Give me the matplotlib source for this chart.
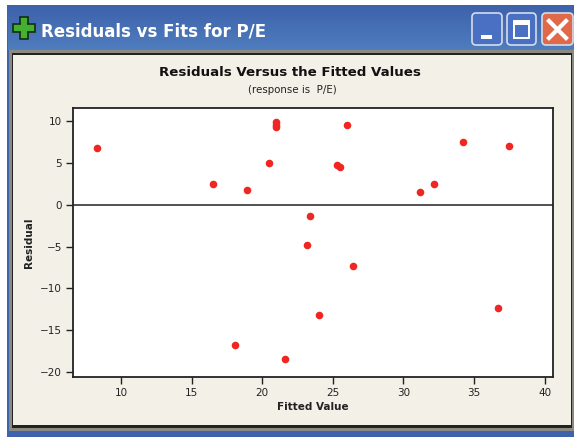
import numpy as np
import matplotlib
matplotlib.use("Agg")
import matplotlib.pyplot as plt
from matplotlib.patches import Rectangle, FancyBboxPatch

# values
fitted = [8.3, 16.5, 18.9, 20.5, 21.0, 21.0, 21.0, 25.3, 25.5, 26.0, 31.2,
          32.2, 34.2, 37.5, 23.4, 23.2, 26.4, 24.0, 18.1, 21.6, 36.7]
residual = [6.8, 2.5, 1.8, 5.0, 9.9, 9.6, 9.3, 4.8, 4.5, 9.6, 1.6,
            2.5, 7.5, 7.0, -1.3, -4.8, -7.3, -13.2, -16.8, -18.4, -12.4]
xticks = [10, 15, 20, 25, 30, 35, 40]
yticks = [10, 5, 0, -5, -10, -15, -20]

W, H = 574, 437
fig = plt.figure(figsize=(W/100, H/100), dpi=100, facecolor="white")

# window frame, drawn in pixel coords
bg = fig.add_axes([0, 0, 1, 1])
bg.axis("off")

bg.add_patch(Rectangle((7, 5), W-7, H-5, fc="#3f62ad", ec="none"))
bar = np.linspace(0, 1, 45)[:, None, None] * np.array([0x4f-0x3d, 0x7d-0x62, 0xbe-0xab]) / 255 + np.array([0x3d, 0x62, 0xab]) / 255
bg.imshow(bar, extent=(8, W, 50, 5), aspect="auto", zorder=1)
bg.set_xlim(0, W)
bg.set_ylim(H, 0)
bg.add_patch(Rectangle((9, 50), W-9, 381, fc="#8b8a80", ec="none", zorder=2))
bg.add_patch(Rectangle((12, 53), W-14, 375, fc="#222222", ec="none", zorder=3))
bg.add_patch(Rectangle((13, 55), W-16, 370, fc="#f3f0e8", ec="none", zorder=4))
bg.add_patch(Rectangle((7, 431), W-7, 6, fc="#3f62ad", ec="none", zorder=4))

# green plus icon
bg.add_patch(Rectangle((20, 17), 8, 22, fc="#45b02f", ec="#10300c", lw=1.2, zorder=5))
bg.add_patch(Rectangle((13, 24), 22, 8, fc="#45b02f", ec="#10300c", lw=1.2, zorder=5))
bg.add_patch(Rectangle((21, 18), 6, 20, fc="#45b02f", ec="none", zorder=6))

bg.text(41, 31, "Residuals vs Fits for P/E", color="white", fontsize=12,
        fontweight="bold", va="center", ha="left", zorder=6)

# window buttons
for x0, x1, col in [(472, 502, "#4a70c4"), (507, 536, "#4a70c4"), (542, 573, "#e0694a")]:
    bg.add_patch(FancyBboxPatch((x0+2, 15), x1-x0-4, 28, boxstyle="round,pad=2,rounding_size=4",
                                fc=col, ec="#d5dcec", lw=1.2, zorder=6))
bg.add_patch(Rectangle((481, 35), 11, 4, fc="white", ec="none", zorder=7))
bg.add_patch(Rectangle((514, 21), 15, 17, fc="none", ec="white", lw=1.4, zorder=7))
bg.add_patch(Rectangle((514, 21), 15, 4, fc="white", ec="none", zorder=7))
bg.plot([549, 566], [21, 38], color="white", lw=3, zorder=7)
bg.plot([549, 566], [38, 21], color="white", lw=3, zorder=7)

bg.text(290, 72, "Residuals Versus the Fitted Values", color="#111111", fontsize=9.6,
        fontweight="bold", ha="center", va="center", zorder=6)
bg.text(292, 90, "(response is  P/E)", color="#222222", fontsize=7.4,
        ha="center", va="center", zorder=6)

# the plot itself
ax = fig.add_axes([73/W, 1-377/H, (553-73)/W, (377-108)/H], zorder=3)
ax.set_facecolor("white")
ax.scatter(fitted, residual, s=30, color="#ee2722", linewidths=0, zorder=3)
ax.axhline(0, color="#333333", lw=1.2, zorder=2)
ax.set_xlim(6.6, 40.6)
ax.set_ylim(-20.6, 11.6)
ax.set_xticks(xticks)
ax.set_yticks(yticks)
ax.tick_params(labelsize=7.5, length=5, width=1, colors="#222222", pad=3)
for s in ax.spines.values():
    s.set_linewidth(1.3)
    s.set_color("#222222")
ax.set_xlabel("Fitted Value", fontsize=7.5, fontweight="bold", color="#222222", labelpad=3)
ax.set_ylabel("Residual", fontsize=7.5, fontweight="bold", color="#222222", labelpad=4)

fig.savefig("out.png", dpi=100)
